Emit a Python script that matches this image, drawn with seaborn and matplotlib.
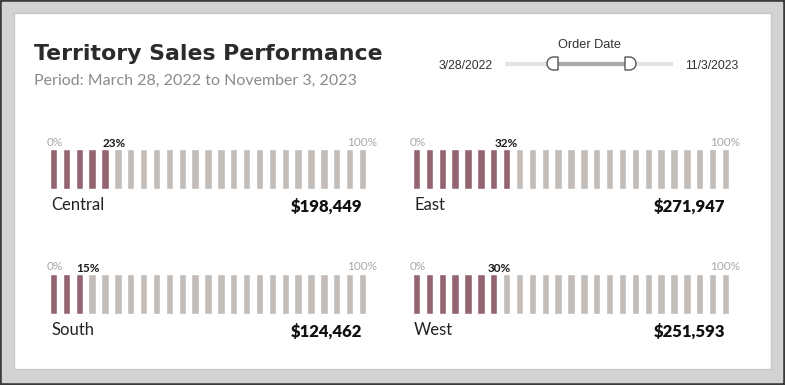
import numpy as np
import pandas as pd
import matplotlib.pyplot as plt
import matplotlib.patches as mpatches
from matplotlib.path import Path
import seaborn as sns

regions = ["Central", "East", "South", "West"]
pct_of_total = [23, 32, 15, 30]
sales = [198449, 271947, 124462, 251593]
n_segments = 25  # each segment is 4% of total
start_label = "3/28/2022"
end_label = "11/3/2023"

W, H = 785, 385
filled_color = "#9b5d6c"
empty_color = "#c4bcb8"

sns.set_theme(style="white")
plt.rcParams["font.family"] = ["Lato", "DejaVu Sans"]

fig = plt.figure(figsize=(W / 100, H / 100), dpi=100)


def px(x, y):
    # pixel position (from top-left) to figure fraction
    return x / W, 1 - y / H


# Background layer drawn in pixel units
bg = fig.add_axes([0, 0, 1, 1], zorder=0)
bg.set_xlim(0, W)
bg.set_ylim(H, 0)
bg.axis("off")
bg.add_patch(mpatches.Rectangle((0, 0), W, H, color="#3b3b3b"))
bg.add_patch(mpatches.Rectangle((2, 2), W - 5, H - 5, color="#d3d3d3"))
bg.add_patch(mpatches.Rectangle((14, 13), 757, 356, facecolor="white", edgecolor="#c8c8c8", lw=1))

# Title and subtitle
fig.text(*px(34, 54), "Territory Sales Performance", fontsize=15.8, fontweight="bold",
         color="#2b2b2b", va="center", ha="left", family=["DejaVu Sans"])
fig.text(*px(34, 81), "Period: March 28, 2022 to November 3, 2023", fontsize=11.5,
         color="#8a8a8a", va="center", ha="left")

# Date slider
slider_font = ["Liberation Sans", "DejaVu Sans"]
fig.text(*px(590, 45), "Order Date", fontsize=9.2, color="#333333", ha="center", va="center",
         family=slider_font)
fig.text(*px(466, 66), start_label, fontsize=8.8, color="#333333", ha="center", va="center",
         family=slider_font)
fig.text(*px(712, 66), end_label, fontsize=8.8, color="#333333", ha="center", va="center",
         family=slider_font)
bg.plot([505, 673], [64, 64], color="#e4e4e4", lw=3, solid_capstyle="butt")
bg.plot([557, 626], [64, 64], color="#a9a9a9", lw=3, solid_capstyle="butt")


def handle(x_flat, direction):
    # D-shaped slider handle; direction -1 rounds to the left, +1 to the right
    r = 6.5
    cy = 63.5
    cx = x_flat + direction * 4.5
    t = np.linspace(-np.pi / 2, np.pi / 2, 24)
    arc = np.column_stack([cx + direction * r * np.cos(t), cy + r * np.sin(t)])
    verts = [(x_flat, cy - r)] + [tuple(p) for p in arc] + [(x_flat, cy + r), (x_flat, cy - r)]
    codes = [Path.MOVETO] + [Path.LINETO] * (len(verts) - 2) + [Path.CLOSEPOLY]
    bg.add_patch(mpatches.PathPatch(Path(verts, codes), facecolor="white", edgecolor="#555555",
                                    lw=1, zorder=5))


handle(558, -1)
handle(625, 1)

# Layout of the four region panels (pixels)
panel_left = [47, 410, 47, 410]
panel_top = [149, 149, 274, 274]
bar_w_px = 322
bar_h_px = 40

for i, region in enumerate(regions):
    seg_df = pd.DataFrame({
        "segment": np.arange(n_segments),
        "height": np.ones(n_segments),
    })
    n_filled = pct_of_total[i] // 4
    seg_df["status"] = np.where(seg_df["segment"] < n_filled, "filled", "empty")

    x0, y0 = px(panel_left[i], panel_top[i] + bar_h_px)
    ax = fig.add_axes([x0, y0, bar_w_px / W, bar_h_px / H], zorder=2)
    sns.barplot(
        data=seg_df, x="segment", y="height", hue="status",
        palette={"filled": filled_color, "empty": empty_color},
        dodge=False, width=0.57, legend=False, ax=ax,
    )
    ax.set_xlim(-0.5, n_segments - 0.5)
    ax.set_ylim(0, 1)
    ax.axis("off")
    ax.patch.set_alpha(0)

    # 0% / 100% / value labels above the bars
    left = panel_left[i]
    top = panel_top[i]
    fig.text(*px(left, top - 7), "0%", fontsize=8.5, color="#a8a8a8", ha="left", va="center")
    fig.text(*px(left + 330, top - 7), "100%", fontsize=8.5, color="#a8a8a8", ha="right", va="center")
    ax.text(-0.5 + n_segments * pct_of_total[i] / 100 + 0.35, 1.0, f"{pct_of_total[i]}%",
            transform=ax.transData, fontsize=8.5, fontweight="bold", color="#1a1a1a",
            ha="right", va="bottom", clip_on=False)

    # region name and sales total below the bars
    fig.text(*px(left + 4, top + 56), region, fontsize=12, color="#222222",
             ha="left", va="center")
    fig.text(*px(left + 315, top + 58), f"${sales[i]:,}", fontsize=12, fontweight="heavy",
             color="#111111", ha="right", va="center")

fig.savefig("out.png", dpi=100)
